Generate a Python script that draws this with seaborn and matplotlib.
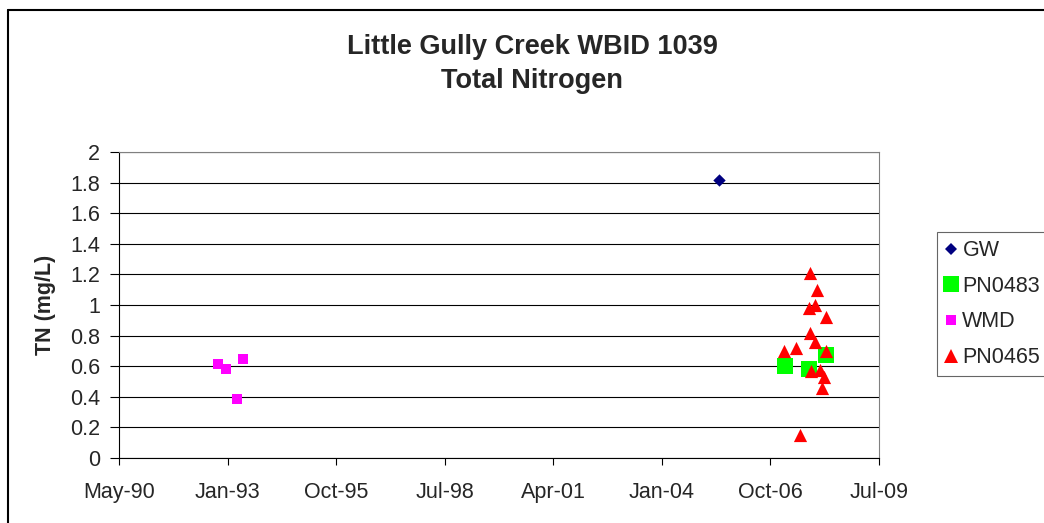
import numpy as np
import pandas as pd
import matplotlib
matplotlib.use("Agg")
import matplotlib.pyplot as plt
import matplotlib.dates as mdates
from matplotlib.lines import Line2D
import seaborn as sns

# data
gw_dates = ["2005-06-25"]
gw_tn = [1.82]

pn0483_dates = ["2007-02-18", "2007-10-01", "2008-03-03"]
pn0483_tn = [0.60, 0.58, 0.67]

wmd_dates = ["1992-10-31", "1993-01-16", "1993-04-24", "1993-06-24"]
wmd_tn = [0.615, 0.58, 0.385, 0.65]

pn0465_dates = ["2007-02-15", "2007-06-04", "2007-07-04", "2007-09-25", "2007-10-08",
                "2007-10-08", "2007-10-20", "2007-11-26", "2007-11-26", "2007-12-11",
                "2008-01-11", "2008-01-29", "2008-02-10", "2008-02-29", "2008-03-03"]
pn0465_tn = [0.70, 0.72, 0.15, 0.98, 1.21,
             0.82, 0.57, 1.00, 0.76, 1.10,
             0.575, 0.46, 0.53, 0.92, 0.70]

series = [
    ("GW", gw_dates, gw_tn, "D", "#000080", 6.3),
    ("PN0483", pn0483_dates, pn0483_tn, "s", "#00FF00", 11.5),
    ("WMD", wmd_dates, wmd_tn, "s", "#FF00FF", 7.2),
    ("PN0465", pn0465_dates, pn0465_tn, "^", "#FF0000", 9.5),
]

sns.set_style("white")
plt.rcParams["font.family"] = ["Liberation Sans", "DejaVu Sans"]

fig = plt.figure(figsize=(10.44, 5.23), dpi=100)
ax = fig.add_axes([119 / 1044, 1 - 458 / 523, 760 / 1044, 306 / 523])

handles = []
for name, dates, vals, mk, col, ms in series:
    df = pd.DataFrame({"date": pd.to_datetime(dates), "tn": vals})
    sns.scatterplot(data=df, x="date", y="tn", ax=ax, marker=mk, color=col,
                    s=ms ** 2, linewidth=0, zorder=3)
    handles.append(Line2D([], [], marker=mk, color=col, linestyle="none",
                          markersize=ms, markeredgewidth=0, label=name))

# axes in Excel style
start = pd.Timestamp("1990-05-06")
ticks = pd.date_range(start, periods=8, freq="1000D")
ax.set_xlim(ticks[0], ticks[-1])
ax.set_xticks(ticks)
ax.xaxis.set_major_formatter(mdates.DateFormatter("%b-%y"))
ax.set_ylim(0, 2)
ax.set_yticks(np.arange(0, 2.01, 0.2))
ax.set_yticklabels(["0", "0.2", "0.4", "0.6", "0.8", "1", "1.2", "1.4", "1.6", "1.8", "2"])
ax.yaxis.grid(True, color="black", linewidth=0.8)
ax.set_axisbelow(True)
for side in ["top", "right"]:
    ax.spines[side].set_color("#808080")
    ax.spines[side].set_linewidth(0.8)
for side in ["left", "bottom"]:
    ax.spines[side].set_color("black")
    ax.spines[side].set_linewidth(0.8)
ax.tick_params(axis="both", direction="out", width=0.8, color="black",
               labelsize=15.5, bottom=True, left=True)
ax.tick_params(axis="y", length=6.5, pad=7)
ax.tick_params(axis="x", length=5, pad=12)
ax.set_xlabel("")
ax.set_ylabel("TN (mg/L)", fontsize=15.5, fontweight="bold")
ax.yaxis.set_label_coords((56 - 119) / 760, 0.5)

fig.text(532 / 1044, 1 - 64 / 523, "Little Gully Creek WBID 1039\nTotal Nitrogen",
         ha="center", va="center", fontsize=19.5, fontweight="bold", linespacing=1.42)

leg = fig.legend(handles=handles, loc="upper left", bbox_to_anchor=(937 / 1044, 1 - 232 / 523),
                 frameon=True, fontsize=15.5, labelspacing=0.68, handlelength=0.55,
                 handletextpad=0.25, borderpad=0.38, fancybox=False, borderaxespad=0)
leg.get_frame().set_edgecolor("#404040")
leg.get_frame().set_linewidth(0.8)

# chart area border (only left and top visible in the reference)
fig.add_artist(Line2D([7.5 / 1044, 7.5 / 1044], [0, 1 - 9.5 / 523], color="black",
                      linewidth=1.5, transform=fig.transFigure))
fig.add_artist(Line2D([7.5 / 1044, 1], [1 - 9.5 / 523, 1 - 9.5 / 523], color="black",
                      linewidth=1.5, transform=fig.transFigure))

fig.savefig("out.png", dpi=100)
